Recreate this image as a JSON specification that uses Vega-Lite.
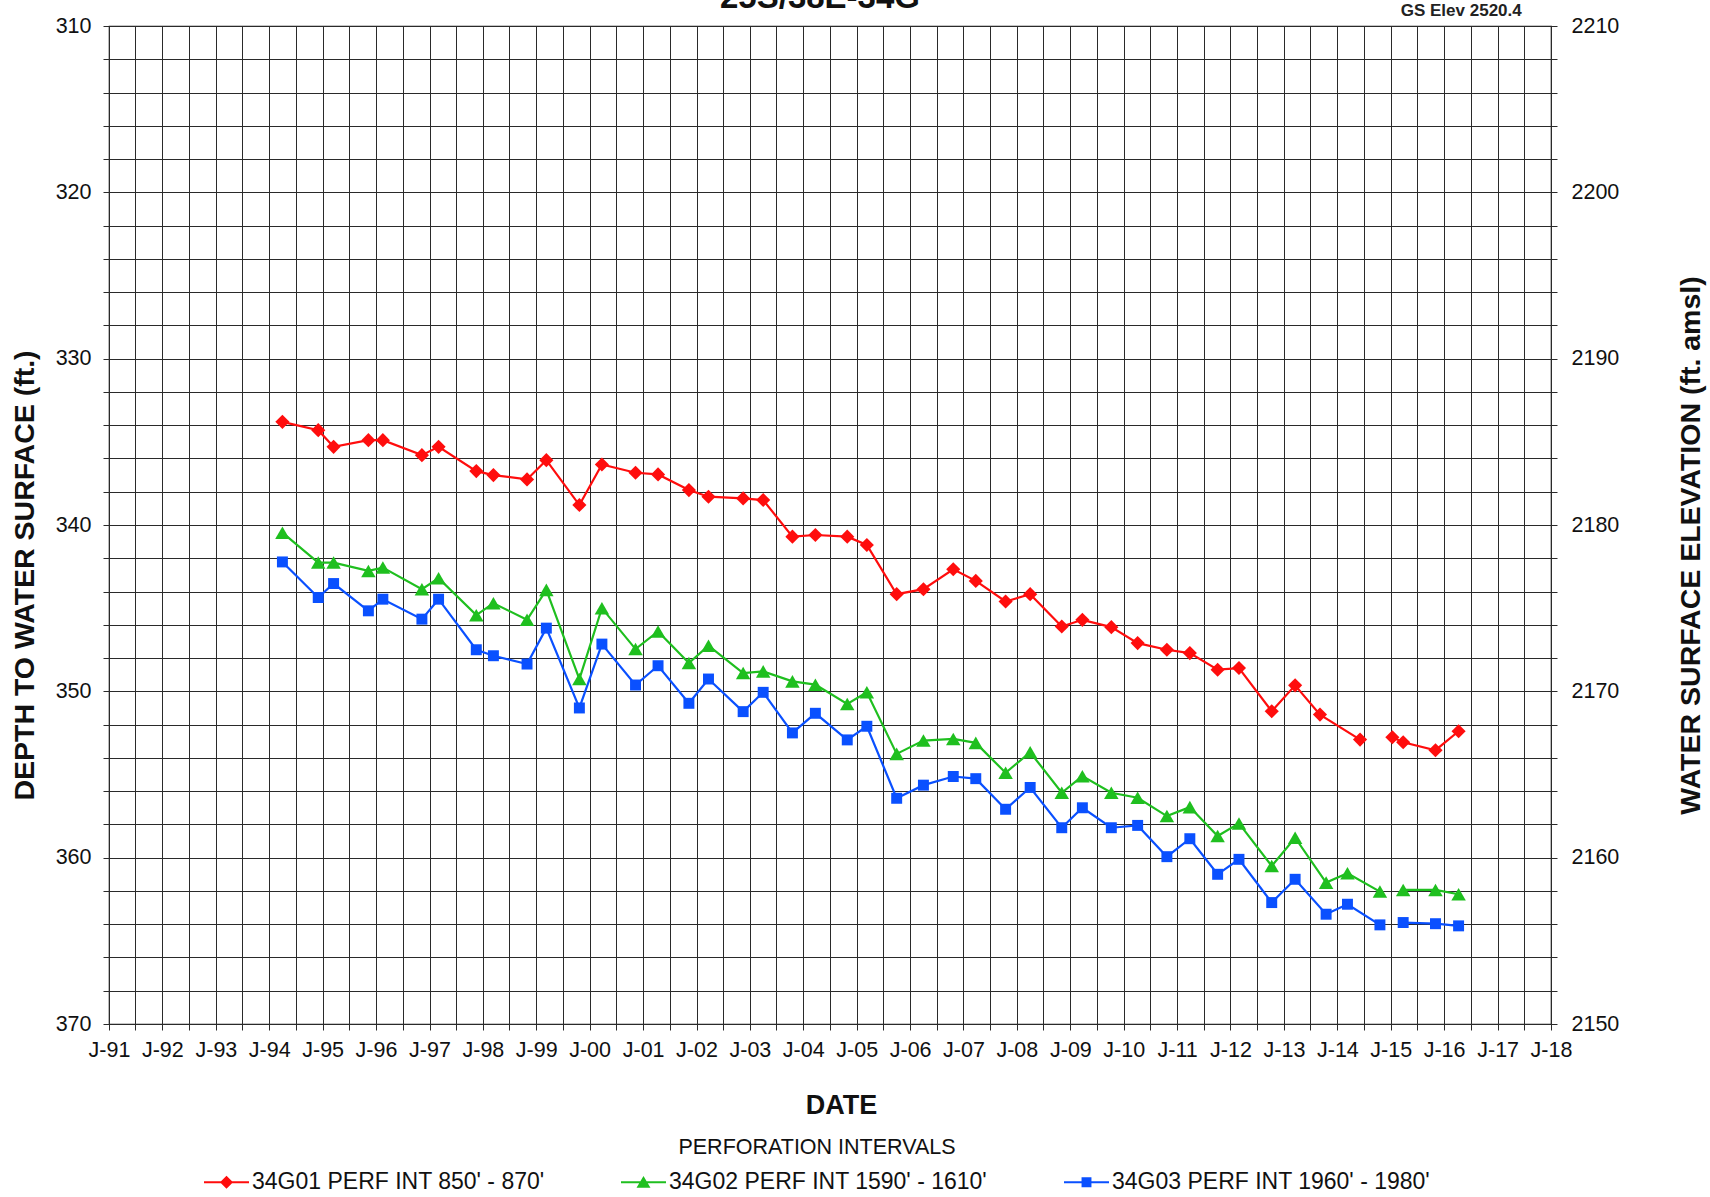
{
  "$schema": "https://vega.github.io/schema/vega-lite/v6.json",
  "width": 1442,
  "height": 998,
  "autosize": {"type": "none"},
  "padding": {"left": 109, "top": 26, "right": 159, "bottom": 173},
  "background": "white",
  "config": {
    "font": "Liberation Sans",
    "view": {"stroke": "#1a1a1a", "strokeWidth": 1.2},
    "axis": {"gridColor": "#2a2a2a", "gridOpacity": 1, "gridWidth": 1, "domain": false, "tickColor": "#2a2a2a", "labelColor": "#111111", "titleColor": "#111111", "labelFont": "Liberation Sans", "titleFont": "Liberation Sans", "labelOverlap": false, "labelFlush": false}
  },
  "title": {"text": "25S/38E-34G", "fontSize": 33, "fontWeight": "bold", "anchor": "middle", "offset": -13, "color": "#111111", "dx": -10},
  "data": {
    "values": [
      {"well": "34G01 PERF INT 850' - 870'", "seg": 1, "date": "1994-04-01", "depth": 333.8},
      {"well": "34G01 PERF INT 850' - 870'", "seg": 1, "date": "1994-12-02", "depth": 334.3},
      {"well": "34G01 PERF INT 850' - 870'", "seg": 1, "date": "1995-03-17", "depth": 335.3},
      {"well": "34G01 PERF INT 850' - 870'", "seg": 1, "date": "1995-11-10", "depth": 334.9},
      {"well": "34G01 PERF INT 850' - 870'", "seg": 1, "date": "1996-02-17", "depth": 334.9},
      {"well": "34G01 PERF INT 850' - 870'", "seg": 1, "date": "1996-11-10", "depth": 335.8},
      {"well": "34G01 PERF INT 850' - 870'", "seg": 1, "date": "1997-03-04", "depth": 335.3},
      {"well": "34G01 PERF INT 850' - 870'", "seg": 1, "date": "1997-11-17", "depth": 336.76},
      {"well": "34G01 PERF INT 850' - 870'", "seg": 1, "date": "1998-03-14", "depth": 337.0},
      {"well": "34G01 PERF INT 850' - 870'", "seg": 1, "date": "1998-10-30", "depth": 337.26},
      {"well": "34G01 PERF INT 850' - 870'", "seg": 1, "date": "1999-03-11", "depth": 336.1},
      {"well": "34G01 PERF INT 850' - 870'", "seg": 1, "date": "1999-10-23", "depth": 338.8},
      {"well": "34G01 PERF INT 850' - 870'", "seg": 1, "date": "2000-03-25", "depth": 336.36},
      {"well": "34G01 PERF INT 850' - 870'", "seg": 1, "date": "2000-11-10", "depth": 336.86},
      {"well": "34G01 PERF INT 850' - 870'", "seg": 1, "date": "2001-04-13", "depth": 336.96},
      {"well": "34G01 PERF INT 850' - 870'", "seg": 1, "date": "2001-11-10", "depth": 337.9},
      {"well": "34G01 PERF INT 850' - 870'", "seg": 1, "date": "2002-03-24", "depth": 338.3},
      {"well": "34G01 PERF INT 850' - 870'", "seg": 1, "date": "2002-11-16", "depth": 338.4},
      {"well": "34G01 PERF INT 850' - 870'", "seg": 1, "date": "2003-04-02", "depth": 338.5},
      {"well": "34G01 PERF INT 850' - 870'", "seg": 1, "date": "2003-10-19", "depth": 340.7},
      {"well": "34G01 PERF INT 850' - 870'", "seg": 1, "date": "2004-03-24", "depth": 340.6},
      {"well": "34G01 PERF INT 850' - 870'", "seg": 1, "date": "2004-10-28", "depth": 340.7},
      {"well": "34G01 PERF INT 850' - 870'", "seg": 1, "date": "2005-03-11", "depth": 341.2},
      {"well": "34G01 PERF INT 850' - 870'", "seg": 1, "date": "2005-10-01", "depth": 344.16},
      {"well": "34G01 PERF INT 850' - 870'", "seg": 1, "date": "2006-04-02", "depth": 343.86},
      {"well": "34G01 PERF INT 850' - 870'", "seg": 1, "date": "2006-10-23", "depth": 342.66},
      {"well": "34G01 PERF INT 850' - 870'", "seg": 1, "date": "2007-03-26", "depth": 343.36},
      {"well": "34G01 PERF INT 850' - 870'", "seg": 1, "date": "2007-10-16", "depth": 344.6},
      {"well": "34G01 PERF INT 850' - 870'", "seg": 1, "date": "2008-04-01", "depth": 344.16},
      {"well": "34G01 PERF INT 850' - 870'", "seg": 1, "date": "2008-11-03", "depth": 346.1},
      {"well": "34G01 PERF INT 850' - 870'", "seg": 1, "date": "2009-03-24", "depth": 345.7},
      {"well": "34G01 PERF INT 850' - 870'", "seg": 1, "date": "2009-10-08", "depth": 346.14},
      {"well": "34G01 PERF INT 850' - 870'", "seg": 1, "date": "2010-04-06", "depth": 347.1},
      {"well": "34G01 PERF INT 850' - 870'", "seg": 1, "date": "2010-10-23", "depth": 347.5},
      {"well": "34G01 PERF INT 850' - 870'", "seg": 1, "date": "2011-03-29", "depth": 347.7},
      {"well": "34G01 PERF INT 850' - 870'", "seg": 1, "date": "2011-10-05", "depth": 348.7},
      {"well": "34G01 PERF INT 850' - 870'", "seg": 1, "date": "2012-02-28", "depth": 348.6},
      {"well": "34G01 PERF INT 850' - 870'", "seg": 1, "date": "2012-10-09", "depth": 351.2},
      {"well": "34G01 PERF INT 850' - 870'", "seg": 1, "date": "2013-03-18", "depth": 349.64},
      {"well": "34G01 PERF INT 850' - 870'", "seg": 1, "date": "2013-09-04", "depth": 351.4},
      {"well": "34G01 PERF INT 850' - 870'", "seg": 1, "date": "2014-06-05", "depth": 352.9},
      {"well": "34G01 PERF INT 850' - 870'", "seg": 2, "date": "2015-01-12", "depth": 352.76},
      {"well": "34G01 PERF INT 850' - 870'", "seg": 2, "date": "2015-03-27", "depth": 353.06},
      {"well": "34G01 PERF INT 850' - 870'", "seg": 2, "date": "2015-11-03", "depth": 353.54},
      {"well": "34G01 PERF INT 850' - 870'", "seg": 2, "date": "2016-04-09", "depth": 352.4},
      {"well": "34G02 PERF INT 1590' - 1610'", "seg": 1, "date": "1994-04-01", "depth": 340.46},
      {"well": "34G02 PERF INT 1590' - 1610'", "seg": 1, "date": "1994-12-02", "depth": 342.26},
      {"well": "34G02 PERF INT 1590' - 1610'", "seg": 1, "date": "1995-03-17", "depth": 342.26},
      {"well": "34G02 PERF INT 1590' - 1610'", "seg": 1, "date": "1995-11-10", "depth": 342.76},
      {"well": "34G02 PERF INT 1590' - 1610'", "seg": 1, "date": "1996-02-17", "depth": 342.56},
      {"well": "34G02 PERF INT 1590' - 1610'", "seg": 1, "date": "1996-11-10", "depth": 343.86},
      {"well": "34G02 PERF INT 1590' - 1610'", "seg": 1, "date": "1997-03-04", "depth": 343.2},
      {"well": "34G02 PERF INT 1590' - 1610'", "seg": 1, "date": "1997-11-17", "depth": 345.42},
      {"well": "34G02 PERF INT 1590' - 1610'", "seg": 1, "date": "1998-03-14", "depth": 344.7},
      {"well": "34G02 PERF INT 1590' - 1610'", "seg": 1, "date": "1998-10-30", "depth": 345.7},
      {"well": "34G02 PERF INT 1590' - 1610'", "seg": 1, "date": "1999-03-11", "depth": 343.9},
      {"well": "34G02 PERF INT 1590' - 1610'", "seg": 1, "date": "1999-10-23", "depth": 349.26},
      {"well": "34G02 PERF INT 1590' - 1610'", "seg": 1, "date": "2000-03-25", "depth": 345.0},
      {"well": "34G02 PERF INT 1590' - 1610'", "seg": 1, "date": "2000-11-10", "depth": 347.46},
      {"well": "34G02 PERF INT 1590' - 1610'", "seg": 1, "date": "2001-04-13", "depth": 346.4},
      {"well": "34G02 PERF INT 1590' - 1610'", "seg": 1, "date": "2001-11-10", "depth": 348.3},
      {"well": "34G02 PERF INT 1590' - 1610'", "seg": 1, "date": "2002-03-24", "depth": 347.26},
      {"well": "34G02 PERF INT 1590' - 1610'", "seg": 1, "date": "2002-11-16", "depth": 348.9},
      {"well": "34G02 PERF INT 1590' - 1610'", "seg": 1, "date": "2003-04-02", "depth": 348.8},
      {"well": "34G02 PERF INT 1590' - 1610'", "seg": 1, "date": "2003-10-19", "depth": 349.4},
      {"well": "34G02 PERF INT 1590' - 1610'", "seg": 1, "date": "2004-03-24", "depth": 349.6},
      {"well": "34G02 PERF INT 1590' - 1610'", "seg": 1, "date": "2004-10-28", "depth": 350.76},
      {"well": "34G02 PERF INT 1590' - 1610'", "seg": 1, "date": "2005-03-11", "depth": 350.06},
      {"well": "34G02 PERF INT 1590' - 1610'", "seg": 1, "date": "2005-10-01", "depth": 353.76},
      {"well": "34G02 PERF INT 1590' - 1610'", "seg": 1, "date": "2006-04-02", "depth": 352.96},
      {"well": "34G02 PERF INT 1590' - 1610'", "seg": 1, "date": "2006-10-23", "depth": 352.86},
      {"well": "34G02 PERF INT 1590' - 1610'", "seg": 1, "date": "2007-03-26", "depth": 353.1},
      {"well": "34G02 PERF INT 1590' - 1610'", "seg": 1, "date": "2007-10-16", "depth": 354.9},
      {"well": "34G02 PERF INT 1590' - 1610'", "seg": 1, "date": "2008-04-01", "depth": 353.66},
      {"well": "34G02 PERF INT 1590' - 1610'", "seg": 1, "date": "2008-11-03", "depth": 356.1},
      {"well": "34G02 PERF INT 1590' - 1610'", "seg": 1, "date": "2009-03-24", "depth": 355.1},
      {"well": "34G02 PERF INT 1590' - 1610'", "seg": 1, "date": "2009-10-08", "depth": 356.1},
      {"well": "34G02 PERF INT 1590' - 1610'", "seg": 1, "date": "2010-04-06", "depth": 356.4},
      {"well": "34G02 PERF INT 1590' - 1610'", "seg": 1, "date": "2010-10-23", "depth": 357.5},
      {"well": "34G02 PERF INT 1590' - 1610'", "seg": 1, "date": "2011-03-29", "depth": 356.96},
      {"well": "34G02 PERF INT 1590' - 1610'", "seg": 1, "date": "2011-10-05", "depth": 358.7},
      {"well": "34G02 PERF INT 1590' - 1610'", "seg": 1, "date": "2012-02-28", "depth": 357.94},
      {"well": "34G02 PERF INT 1590' - 1610'", "seg": 1, "date": "2012-10-09", "depth": 360.5},
      {"well": "34G02 PERF INT 1590' - 1610'", "seg": 1, "date": "2013-03-18", "depth": 358.8},
      {"well": "34G02 PERF INT 1590' - 1610'", "seg": 1, "date": "2013-10-16", "depth": 361.5},
      {"well": "34G02 PERF INT 1590' - 1610'", "seg": 1, "date": "2014-03-11", "depth": 360.94},
      {"well": "34G02 PERF INT 1590' - 1610'", "seg": 1, "date": "2014-10-19", "depth": 362.04},
      {"well": "34G02 PERF INT 1590' - 1610'", "seg": 2, "date": "2015-03-27", "depth": 361.94},
      {"well": "34G02 PERF INT 1590' - 1610'", "seg": 2, "date": "2015-11-03", "depth": 361.94},
      {"well": "34G02 PERF INT 1590' - 1610'", "seg": 2, "date": "2016-04-09", "depth": 362.2},
      {"well": "34G03 PERF INT 1960' - 1980'", "seg": 1, "date": "1994-04-01", "depth": 342.22},
      {"well": "34G03 PERF INT 1960' - 1980'", "seg": 1, "date": "1994-12-02", "depth": 344.36},
      {"well": "34G03 PERF INT 1960' - 1980'", "seg": 1, "date": "1995-03-17", "depth": 343.52},
      {"well": "34G03 PERF INT 1960' - 1980'", "seg": 1, "date": "1995-11-10", "depth": 345.16},
      {"well": "34G03 PERF INT 1960' - 1980'", "seg": 1, "date": "1996-02-17", "depth": 344.46},
      {"well": "34G03 PERF INT 1960' - 1980'", "seg": 1, "date": "1996-11-10", "depth": 345.66},
      {"well": "34G03 PERF INT 1960' - 1980'", "seg": 1, "date": "1997-03-04", "depth": 344.46},
      {"well": "34G03 PERF INT 1960' - 1980'", "seg": 1, "date": "1997-11-17", "depth": 347.5},
      {"well": "34G03 PERF INT 1960' - 1980'", "seg": 1, "date": "1998-03-14", "depth": 347.86},
      {"well": "34G03 PERF INT 1960' - 1980'", "seg": 1, "date": "1998-10-30", "depth": 348.36},
      {"well": "34G03 PERF INT 1960' - 1980'", "seg": 1, "date": "1999-03-11", "depth": 346.2},
      {"well": "34G03 PERF INT 1960' - 1980'", "seg": 1, "date": "1999-10-23", "depth": 351.0},
      {"well": "34G03 PERF INT 1960' - 1980'", "seg": 1, "date": "2000-03-25", "depth": 347.16},
      {"well": "34G03 PERF INT 1960' - 1980'", "seg": 1, "date": "2000-11-10", "depth": 349.62},
      {"well": "34G03 PERF INT 1960' - 1980'", "seg": 1, "date": "2001-04-13", "depth": 348.46},
      {"well": "34G03 PERF INT 1960' - 1980'", "seg": 1, "date": "2001-11-10", "depth": 350.72},
      {"well": "34G03 PERF INT 1960' - 1980'", "seg": 1, "date": "2002-03-24", "depth": 349.26},
      {"well": "34G03 PERF INT 1960' - 1980'", "seg": 1, "date": "2002-11-16", "depth": 351.22},
      {"well": "34G03 PERF INT 1960' - 1980'", "seg": 1, "date": "2003-04-02", "depth": 350.06},
      {"well": "34G03 PERF INT 1960' - 1980'", "seg": 1, "date": "2003-10-19", "depth": 352.5},
      {"well": "34G03 PERF INT 1960' - 1980'", "seg": 1, "date": "2004-03-24", "depth": 351.32},
      {"well": "34G03 PERF INT 1960' - 1980'", "seg": 1, "date": "2004-10-28", "depth": 352.92},
      {"well": "34G03 PERF INT 1960' - 1980'", "seg": 1, "date": "2005-03-11", "depth": 352.1},
      {"well": "34G03 PERF INT 1960' - 1980'", "seg": 1, "date": "2005-10-01", "depth": 356.43},
      {"well": "34G03 PERF INT 1960' - 1980'", "seg": 1, "date": "2006-04-02", "depth": 355.64},
      {"well": "34G03 PERF INT 1960' - 1980'", "seg": 1, "date": "2006-10-23", "depth": 355.12},
      {"well": "34G03 PERF INT 1960' - 1980'", "seg": 1, "date": "2007-03-26", "depth": 355.25},
      {"well": "34G03 PERF INT 1960' - 1980'", "seg": 1, "date": "2007-10-16", "depth": 357.09},
      {"well": "34G03 PERF INT 1960' - 1980'", "seg": 1, "date": "2008-04-01", "depth": 355.78},
      {"well": "34G03 PERF INT 1960' - 1980'", "seg": 1, "date": "2008-11-03", "depth": 358.2},
      {"well": "34G03 PERF INT 1960' - 1980'", "seg": 1, "date": "2009-03-24", "depth": 357.0},
      {"well": "34G03 PERF INT 1960' - 1980'", "seg": 1, "date": "2009-10-08", "depth": 358.2},
      {"well": "34G03 PERF INT 1960' - 1980'", "seg": 1, "date": "2010-04-06", "depth": 358.06},
      {"well": "34G03 PERF INT 1960' - 1980'", "seg": 1, "date": "2010-10-23", "depth": 359.94},
      {"well": "34G03 PERF INT 1960' - 1980'", "seg": 1, "date": "2011-03-29", "depth": 358.86},
      {"well": "34G03 PERF INT 1960' - 1980'", "seg": 1, "date": "2011-10-05", "depth": 361.0},
      {"well": "34G03 PERF INT 1960' - 1980'", "seg": 1, "date": "2012-02-28", "depth": 360.1},
      {"well": "34G03 PERF INT 1960' - 1980'", "seg": 1, "date": "2012-10-09", "depth": 362.7},
      {"well": "34G03 PERF INT 1960' - 1980'", "seg": 1, "date": "2013-03-18", "depth": 361.3},
      {"well": "34G03 PERF INT 1960' - 1980'", "seg": 1, "date": "2013-10-16", "depth": 363.4},
      {"well": "34G03 PERF INT 1960' - 1980'", "seg": 1, "date": "2014-03-11", "depth": 362.8},
      {"well": "34G03 PERF INT 1960' - 1980'", "seg": 1, "date": "2014-10-19", "depth": 364.04},
      {"well": "34G03 PERF INT 1960' - 1980'", "seg": 2, "date": "2015-03-27", "depth": 363.9},
      {"well": "34G03 PERF INT 1960' - 1980'", "seg": 2, "date": "2015-11-03", "depth": 363.97},
      {"well": "34G03 PERF INT 1960' - 1980'", "seg": 2, "date": "2016-04-09", "depth": 364.1}
    ]
  },
  "layer": [
    {
      "layer": [
        {
          "transform": [{"filter": "false"}],
          "mark": {"type": "point", "filled": true, "opacity": 1},
          "encoding": {
            "x": {"field": "date", "type": "temporal"},
            "y": {"field": "depth", "type": "quantitative"},
            "color": {
              "field": "well", "type": "nominal",
              "scale": {"domain": ["34G01 PERF INT 850' - 870'", "34G02 PERF INT 1590' - 1610'", "34G03 PERF INT 1960' - 1980'"], "range": ["#ff0d0d", "#1fbf1f", "#0a50ff"]},
              "legend": {
                "orient": "none", "legendX": 95, "legendY": 1111, "direction": "horizontal",
                "title": "PERFORATION INTERVALS", "titleFontSize": 21.5, "titleFontWeight": "normal", "titleAnchor": "middle", "titlePadding": 1, "titleColor": "#111111", "titleFont": "Liberation Sans", "titleLimit": 1000,
                "labelFontSize": 23, "labelOffset": 3, "labelLimit": 0, "labelColor": "#111111", "labelFont": "Liberation Sans",
                "columnPadding": 76, "symbolSize": 2025, "symbolOpacity": 1, "symbolStrokeWidth": 0, "padding": 0
              }
            },
            "shape": {
              "field": "well", "type": "nominal",
              "scale": {
                "domain": ["34G01 PERF INT 850' - 870'", "34G02 PERF INT 1590' - 1610'", "34G03 PERF INT 1960' - 1980'"],
                "range": [
                  "M-1,-0.045L1,-0.045L1,0.045L-1,0.045ZM0,-0.29L0.29,0L0,0.29L-0.29,0Z",
                  "M-1,-0.045L1,-0.045L1,0.045L-1,0.045ZM0,-0.28L0.31,0.24L-0.31,0.24Z",
                  "M-1,-0.045L1,-0.045L1,0.045L-1,0.045ZM-0.22,-0.22L0.22,-0.22L0.22,0.22L-0.22,0.22Z"
                ]
              }
            }
          }
        },
        {
          "mark": {"type": "line", "strokeWidth": 2.2},
          "encoding": {
            "x": {
              "field": "date", "type": "temporal",
              "scale": {"type": "utc", "domain": [{"year": 1991, "month": 1, "date": 1, "utc": true}, {"year": 2018, "month": 1, "date": 1, "utc": true}], "nice": false},
              "axis": {
                "orient": "bottom", "tickCount": {"interval": "month", "step": 6}, "format": "J-%y",
                "labelExpr": "utcmonth(datum.value) === 0 ? datum.label : ''",
                "grid": true, "tickSize": 6, "labelPadding": 9, "labelFontSize": 21.5, "labelOverlap": false, "labelFlush": false,
                "title": "DATE", "titleFontSize": 27, "titleFontWeight": "bold", "titleX": 732, "titleY": 81, "titleBaseline": "middle", "titleAlign": "center"
              }
            },
            "y": {
              "field": "depth", "type": "quantitative",
              "scale": {"domain": [310, 370], "reverse": true, "nice": false, "zero": false},
              "axis": {
                "orient": "left", "tickCount": 31,
                "values": [310, 312, 314, 316, 318, 320, 322, 324, 326, 328, 330, 332, 334, 336, 338, 340, 342, 344, 346, 348, 350, 352, 354, 356, 358, 360, 362, 364, 366, 368, 370],
                "labelExpr": "datum.value % 10 === 0 ? datum.label : ''",
                "grid": true, "tickSize": 6, "labelPadding": 12, "labelFontSize": 21.5, "labelOverlap": false, "labelFlush": false,
                "title": "DEPTH TO WATER SURFACE (ft.)", "titleFontSize": 28.5, "titleFontWeight": "bold", "titleAngle": 270, "titleX": -85, "titleY": 549, "titleBaseline": "middle", "titleAlign": "center"
              }
            },
            "stroke": {
              "field": "well", "type": "nominal", "legend": null,
              "scale": {"domain": ["34G01 PERF INT 850' - 870'", "34G02 PERF INT 1590' - 1610'", "34G03 PERF INT 1960' - 1980'"], "range": ["#ff0d0d", "#1fbf1f", "#0a50ff"]}
            },
            "detail": {"field": "seg", "type": "nominal"}
          }
        },
        {
          "transform": [{"filter": "indexof(datum.well, '34G01') >= 0"}],
          "mark": {"type": "point", "filled": true, "opacity": 1, "shape": "diamond", "size": 200},
          "encoding": {
            "x": {"field": "date", "type": "temporal"},
            "y": {"field": "depth", "type": "quantitative"},
            "fill": {"field": "well", "type": "nominal", "legend": null, "scale": {"domain": ["34G01 PERF INT 850' - 870'", "34G02 PERF INT 1590' - 1610'", "34G03 PERF INT 1960' - 1980'"], "range": ["#ff0d0d", "#1fbf1f", "#0a50ff"]}}
          }
        },
        {
          "transform": [{"filter": "indexof(datum.well, '34G02') >= 0"}],
          "mark": {"type": "point", "filled": true, "opacity": 1, "shape": "triangle-up", "size": 210},
          "encoding": {
            "x": {"field": "date", "type": "temporal"},
            "y": {"field": "depth", "type": "quantitative"},
            "fill": {"field": "well", "type": "nominal", "legend": null}
          }
        },
        {
          "transform": [{"filter": "indexof(datum.well, '34G03') >= 0"}],
          "mark": {"type": "point", "filled": true, "opacity": 1, "shape": "square", "size": 120},
          "encoding": {
            "x": {"field": "date", "type": "temporal"},
            "y": {"field": "depth", "type": "quantitative"},
            "fill": {"field": "well", "type": "nominal", "legend": null}
          }
        },
        {
          "data": {"values": [{}]},
          "mark": {"type": "text", "fontWeight": "bold", "fontSize": 17, "align": "center", "baseline": "middle", "color": "#222222"},
          "encoding": {
            "x": {"datum": {"year": 2016, "month": 4, "date": 27, "utc": true}, "type": "temporal"},
            "y": {"datum": 309.12, "type": "quantitative"},
            "text": {"value": "GS Elev  2520.4"}
          }
        }
      ]
    },
    {
      "mark": {"type": "point", "opacity": 0},
      "encoding": {
        "y": {
          "datum": 2180, "type": "quantitative",
          "scale": {"domain": [2150, 2210], "nice": false, "zero": false},
          "axis": {
            "orient": "right", "format": "d", "tickCount": 31,
            "values": [2150, 2152, 2154, 2156, 2158, 2160, 2162, 2164, 2166, 2168, 2170, 2172, 2174, 2176, 2178, 2180, 2182, 2184, 2186, 2188, 2190, 2192, 2194, 2196, 2198, 2200, 2202, 2204, 2206, 2208, 2210],
            "labelExpr": "datum.value % 10 === 0 ? datum.label : ''",
            "grid": false, "tickSize": 6, "labelPadding": 14, "labelFontSize": 21.5, "labelOverlap": false, "labelFlush": false,
            "title": "WATER SURFACE ELEVATION (ft. amsl)", "titleFontSize": 28.5, "titleFontWeight": "bold", "titleAngle": 270, "titleX": 139, "titleY": 519, "titleBaseline": "middle", "titleAlign": "center"
          }
        }
      }
    }
  ],
  "resolve": {"scale": {"y": "independent"}}
}
